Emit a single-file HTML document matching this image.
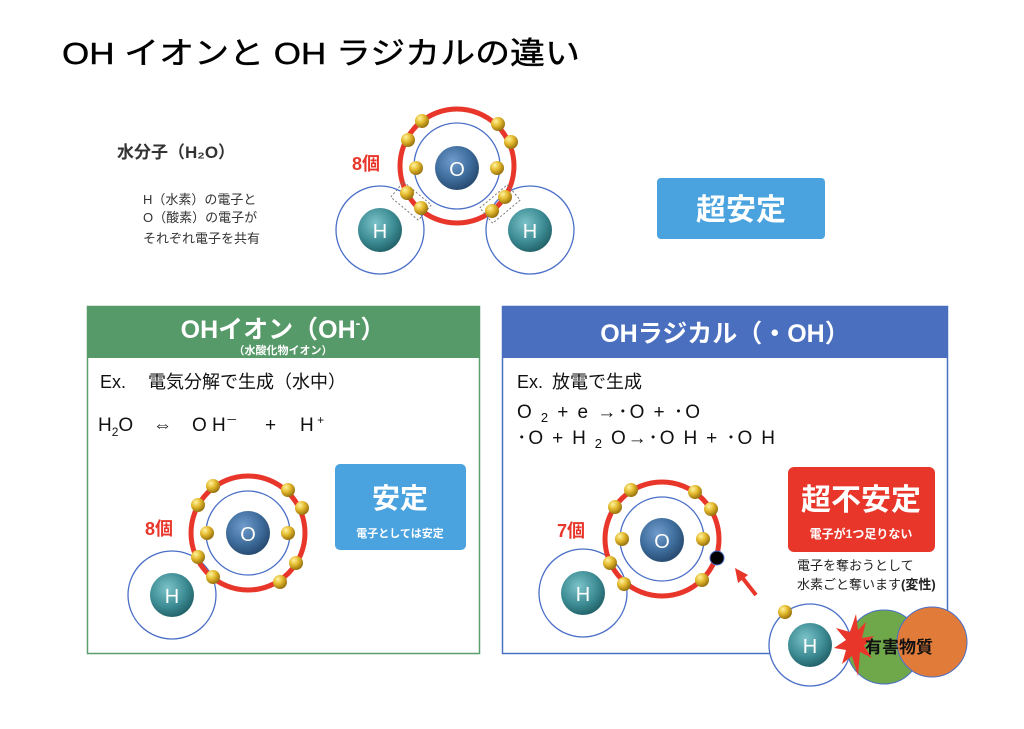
<!DOCTYPE html>
<html><head><meta charset="utf-8"><style>
html,body{margin:0;padding:0;background:#fff;}
svg{display:block;font-family:"Liberation Sans","Noto Sans CJK JP",sans-serif;}
</style></head><body>
<svg width="1024" height="729" viewBox="0 0 1024 729" xmlns="http://www.w3.org/2000/svg">
<defs>
<radialGradient id="gO" cx="40%" cy="35%" r="70%"><stop offset="0" stop-color="#6f9ccc"/><stop offset="0.6" stop-color="#3d6b9a"/><stop offset="1" stop-color="#24466b"/></radialGradient>
<radialGradient id="gH" cx="40%" cy="35%" r="70%"><stop offset="0" stop-color="#7cc3c9"/><stop offset="0.6" stop-color="#3d8c94"/><stop offset="1" stop-color="#1f5d64"/></radialGradient>
<radialGradient id="gE" cx="35%" cy="30%" r="70%"><stop offset="0" stop-color="#fff3a0"/><stop offset="0.5" stop-color="#e3b92c"/><stop offset="1" stop-color="#9a7410"/></radialGradient>
</defs>

<text x="62" y="64" font-size="31" fill="#000" stroke="#000" stroke-width="0.4" textLength="518" lengthAdjust="spacingAndGlyphs">OH イオンと OH ラジカルの違い</text>

<!-- top molecule -->
<circle cx="380" cy="230" r="44" fill="none" stroke="#4a6fc7" stroke-width="1.3"/>
<circle cx="530" cy="230" r="44" fill="none" stroke="#4a6fc7" stroke-width="1.3"/>
<circle cx="457" cy="166" r="57" fill="none" stroke="#e8362a" stroke-width="5"/>
<circle cx="457" cy="166" r="43" fill="none" stroke="#4a6fc7" stroke-width="1.3"/>
<rect x="393" y="191" width="36" height="20" fill="none" stroke="#777" stroke-dasharray="2,2" transform="rotate(40 411 201)"/>
<rect x="482" y="194" width="36" height="20" fill="none" stroke="#777" stroke-dasharray="2,2" transform="rotate(-40 500 204)"/>
<circle cx="457" cy="168" r="22" fill="url(#gO)"/><text x="457" y="176" font-size="20" fill="#fff" text-anchor="middle">O</text>
<circle cx="380" cy="230" r="22" fill="url(#gH)"/><text x="380" y="238" font-size="20" fill="#fff" text-anchor="middle">H</text>
<circle cx="530" cy="230" r="22" fill="url(#gH)"/><text x="530" y="238" font-size="20" fill="#fff" text-anchor="middle">H</text>
<g fill="url(#gE)">
<circle cx="422" cy="121" r="7"/><circle cx="408" cy="140" r="7"/><circle cx="416" cy="168" r="7"/><circle cx="407" cy="193" r="7"/><circle cx="421" cy="208" r="7"/>
<circle cx="498" cy="124" r="7"/><circle cx="511" cy="142" r="7"/><circle cx="497" cy="168" r="7"/><circle cx="505" cy="197" r="7"/><circle cx="492" cy="211" r="7"/>
</g>
<text x="352" y="170" font-size="18" font-weight="bold" fill="#e8362a">8個</text>
<text x="117" y="158" font-size="17" font-weight="bold" fill="#333">水分子（H₂O）</text>
<text x="143" y="204" font-size="13" fill="#333">H（水素）の電子と</text>
<text x="143" y="222" font-size="13" fill="#333">O（酸素）の電子が</text>
<text x="143" y="243" font-size="13" fill="#333">それぞれ電子を共有</text>
<rect x="657" y="178" width="168" height="61" rx="4" fill="#4aa3df"/>
<text x="741" y="220" font-size="30" font-weight="bold" fill="#fff" text-anchor="middle">超安定</text>

<!-- left box -->
<rect x="87.5" y="306.5" width="392" height="347" fill="#fff" stroke="#5a9e6f" stroke-width="1.5"/>
<rect x="87" y="306" width="393" height="52" fill="#579a69"/>
<text x="283" y="338" font-size="25" font-weight="bold" fill="#fff" text-anchor="middle">OHイオン（OH<tspan font-size="14" dy="-10">-</tspan><tspan dy="10">）</tspan></text>
<text x="283" y="354" font-size="11" font-weight="bold" fill="#fff" text-anchor="middle">（水酸化物イオン）</text>
<text x="100" y="388" font-size="18" fill="#111">Ex.</text>
<text x="148" y="388" font-size="18" fill="#111">電気分解で生成（水中）</text>
<text x="98" y="431" font-size="19" fill="#111">H<tspan font-size="12" dy="5">2</tspan><tspan dy="-5">O</tspan></text>
<text x="153" y="431" font-size="19" fill="#111">⇔</text>
<text x="192" y="431" font-size="19" fill="#111">O H<tspan font-size="12" dy="-7">－</tspan></text>
<text x="265" y="431" font-size="19" fill="#111">+</text>
<text x="300" y="431" font-size="19" fill="#111">H<tspan font-size="12" dy="-7"> +</tspan></text>
<circle cx="172" cy="595" r="44" fill="none" stroke="#4a6fc7" stroke-width="1.3"/>
<circle cx="248" cy="533" r="57" fill="none" stroke="#e8362a" stroke-width="5"/>
<circle cx="248" cy="533" r="42" fill="none" stroke="#4a6fc7" stroke-width="1.3"/>
<circle cx="248" cy="533" r="22" fill="url(#gO)"/><text x="248" y="541" font-size="20" fill="#fff" text-anchor="middle">O</text>
<circle cx="172" cy="595" r="22" fill="url(#gH)"/><text x="172" y="603" font-size="20" fill="#fff" text-anchor="middle">H</text>
<g fill="url(#gE)">
<circle cx="213" cy="486" r="7"/><circle cx="198" cy="505" r="7"/><circle cx="207" cy="533" r="7"/><circle cx="198" cy="557" r="7"/><circle cx="213" cy="577" r="7"/>
<circle cx="288" cy="490" r="7"/><circle cx="302" cy="508" r="7"/><circle cx="288" cy="533" r="7"/><circle cx="296" cy="563" r="7"/><circle cx="280" cy="582" r="7"/>
</g>
<text x="145" y="535" font-size="18" font-weight="bold" fill="#e8362a">8個</text>
<rect x="335" y="464" width="131" height="86" rx="5" fill="#4aa3df"/>
<text x="400" y="508" font-size="28" font-weight="bold" fill="#fff" text-anchor="middle">安定</text>
<text x="400" y="537" font-size="11" font-weight="bold" fill="#fff" text-anchor="middle">電子としては安定</text>

<!-- right box -->
<rect x="502.5" y="306.5" width="445" height="347" fill="#fff" stroke="#4a72c4" stroke-width="1.5"/>
<rect x="502" y="306" width="446" height="52" fill="#4a6fbf"/>
<text x="725" y="342" font-size="25" font-weight="bold" fill="#fff" text-anchor="middle">OHラジカル（・OH）</text>
<text x="517" y="388" font-size="18" fill="#111">Ex.</text>
<text x="552" y="388" font-size="18" fill="#111">放電で生成</text>
<text x="517" y="418" font-size="19" fill="#111" textLength="183" lengthAdjust="spacing">O <tspan font-size="13" dy="4">2</tspan><tspan dy="-4"> + e →･O + ･O</tspan></text>
<text x="517" y="444" font-size="19" fill="#111" textLength="258" lengthAdjust="spacing">･O + H <tspan font-size="13" dy="4">2</tspan><tspan dy="-4"> O→･O H + ･O H</tspan></text>
<circle cx="583" cy="593" r="44" fill="none" stroke="#4a6fc7" stroke-width="1.3"/>
<circle cx="662" cy="539" r="57" fill="none" stroke="#e8362a" stroke-width="5"/>
<circle cx="662" cy="539" r="42" fill="none" stroke="#4a6fc7" stroke-width="1.3"/>
<circle cx="662" cy="540" r="22" fill="url(#gO)"/><text x="662" y="548" font-size="20" fill="#fff" text-anchor="middle">O</text>
<circle cx="583" cy="593" r="22" fill="url(#gH)"/><text x="583" y="601" font-size="20" fill="#fff" text-anchor="middle">H</text>
<g fill="url(#gE)">
<circle cx="631" cy="490" r="7"/><circle cx="615" cy="507" r="7"/><circle cx="622" cy="539" r="7"/><circle cx="610" cy="563" r="7"/><circle cx="624" cy="584" r="7"/>
<circle cx="695" cy="492" r="7"/><circle cx="711" cy="509" r="7"/><circle cx="703" cy="539" r="7"/><circle cx="702" cy="580" r="7"/>
</g>
<circle cx="717" cy="558" r="7" fill="#000" stroke="#4a6fc7"/>
<text x="557" y="537" font-size="18" font-weight="bold" fill="#e8362a">7個</text>
<line x1="756" y1="595" x2="741" y2="576" stroke="#e8362a" stroke-width="4"/>
<polygon points="735,568 748,575 738,583" fill="#e8362a"/>
<rect x="788" y="467" width="147" height="85" rx="6" fill="#e8362a"/>
<text x="861" y="510" font-size="30" font-weight="bold" fill="#fff" text-anchor="middle">超不安定</text>
<text x="861" y="538" font-size="12" font-weight="bold" fill="#fff" text-anchor="middle">電子が1つ足りない</text>
<text x="797" y="570" font-size="13" fill="#222">電子を奪おうとして</text>
<text x="797" y="589" font-size="13" fill="#222">水素ごと奪います<tspan font-weight="bold">(変性)</tspan></text>

<!-- bottom harm -->
<circle cx="810" cy="645" r="41" fill="#fff" stroke="#4a6fc7" stroke-width="1.3"/>
<circle cx="884" cy="647" r="37" fill="#6fa84a" stroke="#4a6fc7" stroke-width="1"/>
<circle cx="932" cy="642" r="35" fill="#e07b3a" stroke="#4a6fc7" stroke-width="1"/>
<circle cx="810" cy="645" r="22" fill="url(#gH)"/><text x="810" y="653" font-size="20" fill="#fff" text-anchor="middle">H</text>
<circle cx="785" cy="612" r="7" fill="url(#gE)"/>
<polygon points="856,614 858,630 866,622 862,638 874,636 864,646 872,658 860,652 858,676 852,656 842,664 846,650 834,648 846,640 836,628 850,632" fill="#e8362a"/>
<text x="865" y="653" font-size="17" font-weight="bold" fill="#111">有害物質</text>
</svg>
</body></html>
